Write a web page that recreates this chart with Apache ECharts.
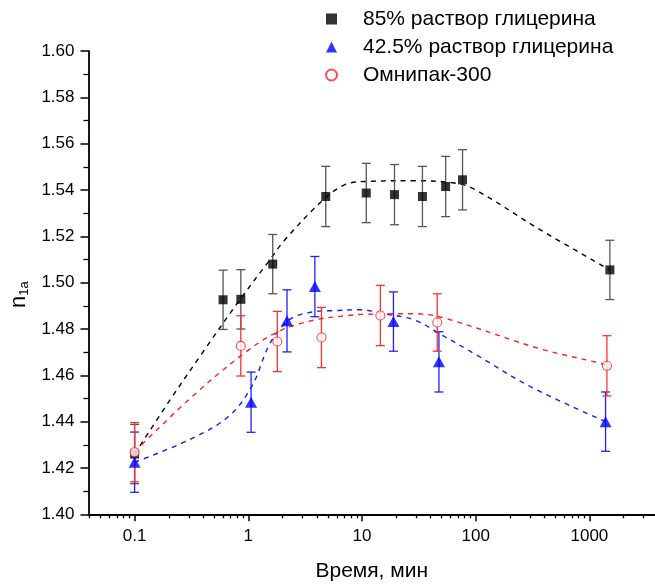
<!DOCTYPE html>
<html>
<head>
<meta charset="utf-8">
<script src="https://cdn.jsdelivr.net/npm/echarts@6/dist/echarts.min.js"></script>
<style>
html,body{margin:0;padding:0;background:#fff;}
#chart{width:655px;height:588px;}
</style>
</head>
<body>
<div id="chart"></div>
<script>
// ---- data ----
const seriesNames = ['85% раствор глицерина', '42.5% раствор глицерина', 'Омнипак-300'];

const timesBlack  = [0.1, 0.6, 0.86, 1.64, 4.8, 10.9, 19.3, 34, 54.4, 76.6, 1514];
const valuesBlack = [1.426, 1.4926, 1.4928, 1.508, 1.5372, 1.5387, 1.538, 1.5372, 1.5415, 1.5444, 1.5055];
const errBlack    = [0.0128, 0.0128, 0.0128, 0.0128, 0.013, 0.0128, 0.013, 0.013, 0.013, 0.013, 0.0128];

const timesBlue  = [0.1, 1.058, 2.19, 3.85, 18.9, 47.5, 1387];
const valuesBlue = [1.4225, 1.4484, 1.4835, 1.4983, 1.4832, 1.4658, 1.44];
const errBlue    = [0.013, 0.013, 0.0134, 0.013, 0.0128, 0.013, 0.0128];

const timesRed  = [0.1, 0.859, 1.80, 4.40, 14.5, 45.9, 1426];
const valuesRed = [1.4268, 1.4727, 1.4746, 1.4763, 1.4858, 1.4828, 1.4641];
const errRed    = [0.0128, 0.013, 0.013, 0.013, 0.013, 0.0124, 0.013];

// dashed guide curves
const curveBlackT = [0.1, 0.2, 0.4, 0.8, 1.5, 2.1, 4.4, 7, 11, 30, 65, 97, 370, 1514];
const curveBlackV = [1.426, 1.4486, 1.4701, 1.4911, 1.509, 1.5185, 1.535, 1.5422, 1.5437, 1.544, 1.543, 1.5404, 1.5228, 1.5055];
const curveBlueT = [0.1, 0.3, 0.67, 1.07, 1.5, 1.97, 2.57, 3.85, 5.4, 9.9, 14.8, 28.9, 46.4, 100, 303, 1387];
const curveBlueV = [1.4225, 1.4321, 1.4422, 1.4551, 1.4724, 1.481, 1.4854, 1.4875, 1.4879, 1.4883, 1.4868, 1.4839, 1.4784, 1.469, 1.4551, 1.44];
const curveRedT = [0.1, 0.3, 0.88, 1.84, 3.85, 7.5, 9.9, 28.9, 54.7, 371, 1245, 1426];
const curveRedV = [1.427, 1.4495, 1.4688, 1.4789, 1.4839, 1.4858, 1.4863, 1.4866, 1.4845, 1.4714, 1.4652, 1.4641];

// axis ticks (time axis is logarithmic, drawn on log10 values)
const xMajorTicks = [0.1, 1, 10, 100, 1000];
const xMinorMantissas = [2, 3, 4, 5, 6, 7, 8, 9];
const xMinorDecades = [0.01, 0.1, 1, 10, 100, 1000];
const xMinT = 0.0393, xMaxT = 3775;
const yMin = 1.40, yMax = 1.60, yStep = 0.02;

// ---- build ----
const lg = Math.log10;
const xMin = lg(xMinT), xMax = lg(xMaxT);
const majorVals = xMajorTicks.map(lg);
const minorVals = [];
xMinorDecades.forEach(d => xMinorMantissas.forEach(m => {
  const v = lg(d * m);
  if (v > xMin && v < xMax) minorVals.push(v);
}));

const pts = (T, V) => T.map((t, i) => [lg(t), V[i]]);
const errPts = (T, V, E) => T.map((t, i) => [lg(t), V[i], E[i]]);

const FONT = '"Liberation Sans", Arial, Helvetica, sans-serif';

function errRenderer(color) {
  return function (params, api) {
    const x = api.value(0), y = api.value(1), e = api.value(2);
    const top = api.coord([x, y + e]);
    const bot = api.coord([x, y - e]);
    const hw = 4.5;
    const st = { stroke: color, lineWidth: 1.3 };
    return {
      type: 'group',
      children: [
        { type: 'line', shape: { x1: top[0], y1: top[1], x2: bot[0], y2: bot[1] }, style: st },
        { type: 'line', shape: { x1: top[0] - hw, y1: top[1], x2: top[0] + hw, y2: top[1] }, style: st },
        { type: 'line', shape: { x1: bot[0] - hw, y1: bot[1], x2: bot[0] + hw, y2: bot[1] }, style: st }
      ]
    };
  };
}

function curve(T, V, color) {
  return {
    type: 'line', data: pts(T, V), smooth: 0.35, showSymbol: false, symbol: 'none',
    lineStyle: { color: color, width: 1.4, type: [5, 5] }, silent: true, z: 1
  };
}
function errSeries(T, V, E, color) {
  return {
    type: 'custom', data: errPts(T, V, E), renderItem: errRenderer(color),
    encode: { x: 0, y: 1 }, silent: true, z: 2
  };
}

const chart = echarts.init(document.getElementById('chart'), null, { renderer: 'canvas' });
const axisColor = '#000';

chart.setOption({
  animation: false,
  backgroundColor: '#fff',
  textStyle: { fontFamily: FONT },
  grid: { left: 86, right: 0, top: 51, bottom: 73.7, containLabel: false },
  legend: {
    orient: 'vertical', left: 320, top: 3,
    itemWidth: 11, itemHeight: 11, itemGap: 6,
    data: seriesNames,
    textStyle: { fontSize: 21, fontFamily: FONT, color: '#000', padding: [0, 0, 0, 21], lineHeight: 22 },
    selectedMode: false
  },
  xAxis: [
    {
      type: 'value', min: xMin, max: xMax, position: 'bottom',
      name: 'Время, мин', nameLocation: 'middle', nameGap: 46,
      nameTextStyle: { fontSize: 21, color: '#000', fontFamily: FONT },
      axisLine: { show: true, onZero: false, lineStyle: { color: axisColor, width: 1.8 } },
      axisTick: { show: true, customValues: majorVals, length: 7, inside: false, lineStyle: { color: axisColor, width: 1.5 } },
      axisLabel: {
        show: true, customValues: majorVals, margin: 14, fontSize: 17, color: '#000', fontFamily: FONT,
        formatter: v => String(Number(Math.pow(10, v).toPrecision(6)))
      },
      splitLine: { show: false }
    },
    {
      type: 'value', min: xMin, max: xMax, position: 'bottom',
      axisLine: { show: false, onZero: false },
      axisTick: { show: true, customValues: minorVals, length: 4, lineStyle: { color: axisColor, width: 1.3 } },
      axisLabel: { show: false },
      splitLine: { show: false }
    }
  ],
  yAxis: {
    type: 'value', min: yMin, max: yMax, interval: yStep,
    name: '{n|n}{s|1a}', nameLocation: 'middle', nameRotate: 90, nameGap: 55,
    nameTextStyle: {
      color: '#000', padding: [0, 24, 0, 0],
      rich: {
        n: { fontSize: 22, fontFamily: FONT, color: '#000' },
        s: { fontSize: 13, fontFamily: FONT, color: '#000', padding: [10, 0, 0, 0], verticalAlign: 'bottom' }
      }
    },
    axisLine: { show: true, onZero: false, lineStyle: { color: axisColor, width: 1.8 } },
    axisTick: { show: true, length: 8, lineStyle: { color: axisColor, width: 1.5 } },
    minorTick: { show: true, splitNumber: 2, length: 5, lineStyle: { color: axisColor, width: 1.3 } },
    axisLabel: { margin: 14, fontSize: 17, color: '#000', fontFamily: FONT, formatter: v => v.toFixed(2) },
    splitLine: { show: false }
  },
  series: [
    curve(curveBlackT, curveBlackV, '#000'),
    curve(curveBlueT, curveBlueV, '#1a1aff'),
    curve(curveRedT, curveRedV, '#ff2020'),
    errSeries(timesBlack, valuesBlack, errBlack, '#555'),
    {
      name: seriesNames[0], type: 'scatter', data: pts(timesBlack, valuesBlack),
      symbol: 'rect', symbolSize: 9, itemStyle: { color: '#000' }, z: 3, silent: true
    },
    errSeries(timesBlue, valuesBlue, errBlue, '#2020ff'),
    {
      name: seriesNames[1], type: 'scatter', data: pts(timesBlue, valuesBlue),
      symbol: 'triangle', symbolSize: [12, 11], itemStyle: { color: '#0000ff' }, z: 3, silent: true
    },
    errSeries(timesRed, valuesRed, errRed, '#ff3030'),
    {
      name: seriesNames[2], type: 'scatter', data: pts(timesRed, valuesRed),
      symbol: 'circle', symbolSize: 9, itemStyle: { color: '#fff', borderColor: '#ff2020', borderWidth: 1.1 }, z: 3, silent: true
    }
  ]
});
</script>
</body>
</html>
